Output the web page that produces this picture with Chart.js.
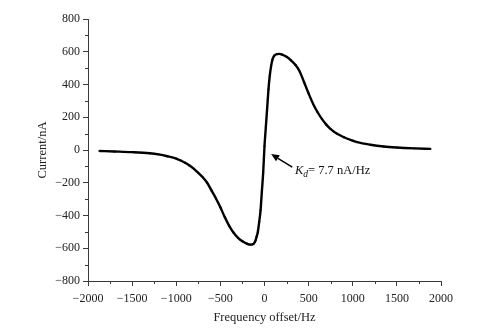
<!DOCTYPE html>
<html>
<head>
<meta charset="utf-8">
<script src="https://cdn.jsdelivr.net/npm/chart.js@4"></script>
<style>
  html, body { margin: 0; padding: 0; background: #fff; }
  #wrap { width: 487px; height: 329px; }
</style>
</head>
<body>
<div id="wrap"><canvas id="c" width="487" height="329"></canvas></div>
<script>
// Frequency offset (Hz) and measured current (nA) of the dispersion signal
const freqHz = [
  -1870, -1700, -1500, -1300, -1200, -1100, -1000, -950, -900, -850,
  -800, -750, -700, -650, -600, -550, -500, -450, -400, -350,
  -300, -250, -200, -160, -130, -110, -100, -90, -76, -60,
  -45, -30, -15, 0, 15, 30, 45, 60, 75, 90,
  110, 140, 170, 200, 250, 300, 350, 400, 450, 500,
  550, 600, 650, 700, 750, 823, 900, 1000, 1050, 1200,
  1351, 1500, 1700, 1880
];
const currentNA = [
  -6, -9, -13, -20, -27, -38, -52, -64, -78, -95,
  -115, -140, -166, -200, -248, -296, -350, -410, -463, -505,
  -536, -558, -572, -578, -575, -562, -550, -530, -502, -439,
  -370, -254, -139, 23, 139, 254, 370, 455, 512, 552,
  576, 585, 587, 582, 569, 548, 520, 478, 412, 345,
  283, 232, 190, 155, 128, 99, 78, 57, 48, 32,
  21, 15, 10, 7
];

// Axis tick settings
const xMajorTicks = [-2000, -1500, -1000, -500, 0, 500, 1000, 1500, 2000];
const yMajorTicks = [-800, -600, -400, -200, 0, 200, 400, 600, 800];

// Slope annotation text
const kdLabel = { sym: 'K', sub: 'd', rest: '= 7.7 nA/Hz' };

const SERIF = '"Liberation Serif", "Times New Roman", serif';
const AXIS_COLOR = '#3a3a3a';

function fmt(v) { return String(v).replace('-', '\u2212'); }

// Minor ticks between the labelled ones, plus the slope arrow and label
const extras = {
  id: 'extras',
  afterDraw(chart) {
    const ctx = chart.ctx;
    const xs = chart.scales.x, ys = chart.scales.y;
    ctx.save();
    ctx.strokeStyle = AXIS_COLOR;
    ctx.lineWidth = 1;
    const bottom = ys.getPixelForValue(-800);
    const left = xs.getPixelForValue(-2000);
    for (let i = 0; i < xMajorTicks.length - 1; i++) {
      const v = (xMajorTicks[i] + xMajorTicks[i + 1]) / 2;
      const px = Math.round(xs.getPixelForValue(v)) + 0.5;
      ctx.beginPath(); ctx.moveTo(px, bottom); ctx.lineTo(px, bottom + 3); ctx.stroke();
    }
    for (let i = 0; i < yMajorTicks.length - 1; i++) {
      const v = (yMajorTicks[i] + yMajorTicks[i + 1]) / 2;
      const py = Math.round(ys.getPixelForValue(v)) + 0.5;
      ctx.beginPath(); ctx.moveTo(left - 3, py); ctx.lineTo(left, py); ctx.stroke();
    }

    // arrow pointing at the linear part of the curve
    const tipX = xs.getPixelForValue(75), tipY = ys.getPixelForValue(-25);
    const tailX = xs.getPixelForValue(315), tailY = ys.getPixelForValue(-105);
    const ang = Math.atan2(tipY - tailY, tipX - tailX);
    const head = 8, hw = 3.6;
    const bx = tipX - head * Math.cos(ang), by = tipY - head * Math.sin(ang);
    ctx.strokeStyle = '#000';
    ctx.fillStyle = '#000';
    ctx.lineWidth = 1.5;
    ctx.beginPath(); ctx.moveTo(tailX, tailY); ctx.lineTo(bx, by); ctx.stroke();
    ctx.beginPath();
    ctx.moveTo(tipX, tipY);
    ctx.lineTo(bx + hw * Math.sin(ang), by - hw * Math.cos(ang));
    ctx.lineTo(bx - hw * Math.sin(ang), by + hw * Math.cos(ang));
    ctx.closePath(); ctx.fill();

    // K_d = 7.7 nA/Hz
    let tx = xs.getPixelForValue(345);
    const ty = ys.getPixelForValue(-145);
    ctx.textBaseline = 'alphabetic';
    ctx.textAlign = 'left';
    ctx.fillStyle = '#111';
    ctx.font = 'italic 12.5px ' + SERIF;
    ctx.fillText(kdLabel.sym, tx, ty);
    tx += ctx.measureText(kdLabel.sym).width;
    ctx.font = 'italic 9.5px ' + SERIF;
    ctx.fillText(kdLabel.sub, tx, ty + 3);
    tx += ctx.measureText(kdLabel.sub).width;
    ctx.font = '12.5px ' + SERIF;
    ctx.fillText(kdLabel.rest, tx, ty);
    ctx.restore();
  }
};

new Chart(document.getElementById('c'), {
  type: 'line',
  data: {
    datasets: [{
      data: freqHz.map((f, i) => ({ x: f, y: currentNA[i] })),
      borderColor: '#000',
      backgroundColor: '#000',
      borderWidth: 2.4,
      pointStyle: 'rect',
      pointRadius: 1.3,
      pointBorderWidth: 0,
      cubicInterpolationMode: 'monotone'
    }]
  },
  options: {
    responsive: false,
    animation: false,
    devicePixelRatio: 1,
    layout: { padding: { left: 31, top: 19, right: 46, bottom: 0 } },
    plugins: { legend: { display: false }, tooltip: { enabled: false } },
    scales: {
      x: {
        type: 'linear',
        min: -2000, max: 2000,
        afterFit(s) { s.height = 48; },
        afterBuildTicks(s) { s.ticks = xMajorTicks.map(v => ({ value: v })); },
        ticks: {
          autoSkip: false, maxRotation: 0, padding: 6,
          color: '#222', font: { family: SERIF, size: 12 },
          callback: v => fmt(v)
        },
        grid: { drawOnChartArea: false, tickLength: 5, tickColor: AXIS_COLOR },
        border: { color: AXIS_COLOR, width: 1 },
        title: {
          display: true, text: 'Frequency offset/Hz', color: '#222',
          font: { family: SERIF, size: 12.5 }, padding: { top: 2, bottom: 4 }
        }
      },
      y: {
        type: 'linear',
        min: -800, max: 800,
        afterFit(s) { s.width = 57; },
        afterBuildTicks(s) { s.ticks = yMajorTicks.map(v => ({ value: v })); },
        ticks: {
          autoSkip: false, padding: 3,
          color: '#222', font: { family: SERIF, size: 12 },
          callback: v => fmt(v)
        },
        grid: { drawOnChartArea: false, tickLength: 5, tickColor: AXIS_COLOR },
        border: { color: AXIS_COLOR, width: 1 },
        title: {
          display: true, text: 'Current/nA', color: '#222',
          font: { family: SERIF, size: 12.5 }, padding: { top: 4, bottom: 4 }
        }
      }
    }
  },
  plugins: [extras]
});
</script>
</body>
</html>
